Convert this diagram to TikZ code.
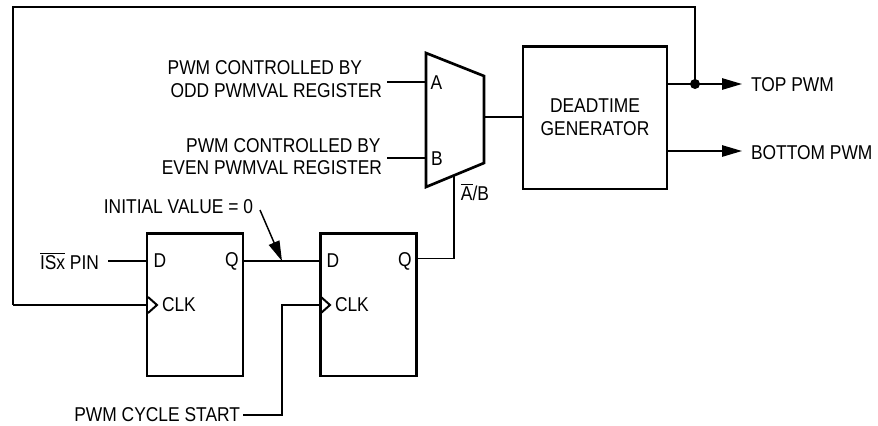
\documentclass[tikz,border=0pt]{standalone}
\usepackage{fontspec}
\setmainfont[FakeStretch=0.87]{Liberation Sans}
\usetikzlibrary{arrows.meta}
\tikzset{
  x=0.75pt,y=-0.75pt,
  wire/.style={line width=1.3pt,line join=miter},
  thick box/.style={draw,line width=2pt,inner sep=0pt,outer sep=0pt},
  ffbox/.style={thick box,minimum width=72pt,minimum height=107pt},
  lbl/.style={inner sep=0pt,outer sep=0pt,font=\fontsize{15}{16}\selectfont,anchor=center},
  flow/.style={wire,-{Triangle[length=15pt,width=8.5pt]}},
  chev/.style={line width=1.5pt,line join=miter},
}
\begin{document}
\begin{tikzpicture}
\useasboundingbox (0,0) rectangle (878,425);
% boxes
\node[ffbox] (ffa) at (195,304.5) {};
\node[ffbox] (ffb) at (368.5,304.5) {};
\node[thick box,minimum width=108pt,minimum height=107pt,align=center,font=\fontsize{15}{17}\selectfont] (dt) at (595,117.5) {DEADTIME\\GENERATOR};
% mux
\coordinate (m1) at (426,53);
\coordinate (m2) at (484,76);
\coordinate (m3) at (484,163);
\coordinate (m4) at (426,187);
\draw[line width=2pt,line join=miter] (m1)--(m2)--(m3)--(m4)--cycle;
% labels
\node[lbl] (a) at (436.5,83) {A};
\node[lbl] (b) at (437,159) {B};
\node[lbl] (sel) at (475,192) {$\overline{\mbox{A}}$/B};
\node[lbl,anchor=east] (l1) at (362,68) {PWM CONTROLLED BY};
\node[lbl,anchor=east] (l2) at (382,91) {ODD PWMVAL REGISTER};
\node[lbl,anchor=east] (l3) at (380.5,146) {PWM CONTROLLED BY};
\node[lbl,anchor=east] (l4) at (382,168) {EVEN PWMVAL REGISTER};
\node[lbl,anchor=east] (init) at (253,207) {INITIAL VALUE = 0};
\node[lbl,anchor=east] (isx) at (99,261) {$\overline{\mbox{ISx}}$ PIN};
\node[lbl,anchor=east] (cyc) at (240,415) {PWM CYCLE START};
\node[lbl,anchor=west] (top) at (751,85) {TOP PWM};
\node[lbl,anchor=west] (bot) at (751,153) {BOTTOM PWM};
\node[lbl] (da) at (160,261) {D};
\node[lbl] (qa) at (232,261.5) {Q};
\node[lbl,anchor=west] (ca) at (162,305) {CLK};
\node[lbl] (db) at (333,261) {D};
\node[lbl] (qb) at (405,261.5) {Q};
\node[lbl,anchor=west] (cb) at (335,305) {CLK};
% ports
\coordinate (ina) at (ffa.west |- 0,261);
\coordinate (outa) at (ffa.east |- 0,261);
\coordinate (inb) at (ffb.west |- 0,261);
\coordinate (outb) at (ffb.east |- 0,258.5);
\coordinate (clka) at (ffa.west |- 0,305);
\coordinate (clkb) at (ffb.west |- 0,305);
\coordinate (mA) at (426,82);
\coordinate (mB) at (426,158);
\coordinate (mO) at (484,117);
\coordinate (mS) at (454,175.5);
\coordinate (tap) at (695,84);
\coordinate (tgt) at (282,261);
% clock chevrons
\draw[chev] (148,297)--(157,305)--(148,313);
\draw[chev] (321,297)--(330,305)--(321,313);
% wires
\draw[wire] (108,261) -- (ina);
\draw[wire] (outa) -- (inb);
\draw[wire] (outb) -- (454,258.5) -- (mS);
\draw[wire] (13,305) -- (clka);
\draw[wire] (tap) -- (695,7) -- (13,7) -- (13,305);
\draw[wire] (cyc.east) ++(3,0) -- (282,415) -- (282,305) -- (clkb);
\draw[wire] (387,82) -- (mA);
\draw[wire] (387,158) -- (mB);
\draw[wire] (mO) -- (dt.west |- mO);
\draw[flow] (dt.east |- tap) -- (742,84);
\draw[flow] (dt.east |- 0,151) -- (742,151);
\fill (tap) circle[radius=5];
\draw[flow,line width=1.1pt] (260,210) -- (tgt);
\end{tikzpicture}
\end{document}
